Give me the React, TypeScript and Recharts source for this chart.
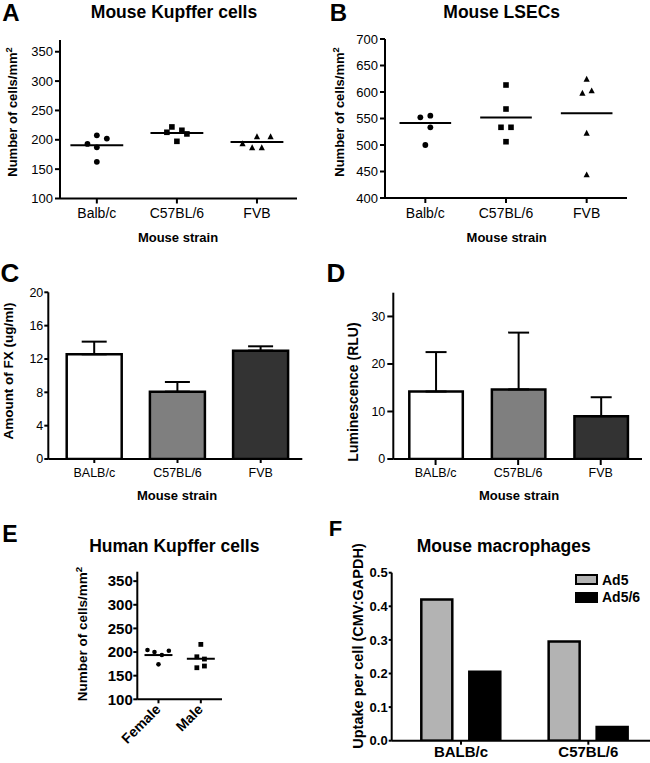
import React from 'react';
import {
  ScatterChart, Scatter, BarChart, Bar, XAxis, YAxis, ReferenceLine, ErrorBar, Cell, Legend,
} from 'recharts';

const FONT = '"Liberation Sans", Arial, Helvetica, sans-serif';

// ---------------- data ----------------
// A: Mouse Kupffer cells
const mouseStrains = ['Balb/c', 'C57BL/6', 'FVB'];
const kupfferTicks = [100, 150, 200, 250, 300, 350];
const kupfferBalbc = [207.7, 202, 193, 187.2, 162.4];
const kupfferBalbcJitter = [0, 0.125, -0.117, 0, 0];
const kupfferC57 = [221.9, 212.8, 216.2, 210, 197.4];
const kupfferC57Jitter = [-0.0625, -0.125, 0.0625, 0.125, 0];
const kupfferFvb = [193, 186.2, 205, 186.2, 205];
const kupfferFvbJitter = [-0.18, -0.06, 0, 0.06, 0.17];
const kupfferMeans = [190.6, 211.7, 196.4];

// B: Mouse LSECs
const lsecTicks = [400, 450, 500, 550, 600, 650, 700];
const lsecBalbc = [552.3, 555.3, 533.4, 500];
const lsecBalbcJitter = [-0.062, 0.062, 0.062, 0];
const lsecC57 = [613.2, 567.9, 533.4, 533.4, 506.2];
const lsecC57Jitter = [0, 0, -0.062, 0.062, 0];
const lsecFvb = [624, 597.5, 601.9, 522, 443.4];
const lsecFvbJitter = [0, -0.053, 0.062, 0, 0];
const lsecMeans = [541.5, 552, 559.8];

// C: Amount of FX
const barStrains = ['BALB/c', 'C57BL/6', 'FVB'];
const fxTicks = [0, 4, 8, 12, 16, 20];
const fxMean = [12.56, 8.08, 13.0];
const fxSem = [1.52, 1.16, 0.52];

// D: Luminescence
const lumTicks = [0, 10, 20, 30];
const lumMean = [14.2, 14.65, 9.0];
const lumSem = [8.3, 11.95, 4.0];

const strainFills = ['#ffffff', '#7f7f7f', '#333333'];

// E: Human Kupffer cells
const sexes = ['Female', 'Male'];
const humanFemale = [204.2, 200, 193.6, 202.7, 174];
const humanFemaleJitter = [-0.26, -0.094, 0.08, 0.245, 0];
const humanMale = [216.2, 190, 185.2, 166.8, 170.4];
const humanMaleJitter = [0, -0.094, 0.085, -0.094, 0.085];
const humanMeans = [193.6, 185.8];

// F: Mouse macrophages
const macStrains = ['BALB/c', 'C57BL/6'];
const macTicks = [0, 0.1, 0.2, 0.3, 0.4, 0.5];
const ad5Uptake = [0.42, 0.295];
const ad56Uptake = [0.205, 0.041];

// ---------------- helpers ----------------
const AX = { stroke: '#000', strokeWidth: 2 };

const pts = (vals: number[], jit: number[], c: number) =>
  vals.map((v, i) => ({ x: c + jit[i], y: v }));

const circleShape = (r: number) => (p: any) => <circle cx={p.cx} cy={p.cy} r={r} fill="#000" />;
const squareShape = (s: number) => (p: any) => (
  <rect x={p.cx - s / 2} y={p.cy - s / 2} width={s} height={s} fill="#000" />
);
const triangleShape = (s: number) => (p: any) => {
  const h = s * 0.95;
  return (
    <polygon
      points={`${p.cx},${p.cy - h * 0.6} ${p.cx - s / 2},${p.cy + h * 0.4} ${p.cx + s / 2},${p.cy + h * 0.4}`}
      fill="#000"
    />
  );
};

const Txt = ({ x, y, size, bold = true, rot = 0, children }: any) => (
  <div
    style={{
      position: 'absolute', left: x, top: y,
      transform: `translate(-50%,-50%) rotate(${rot}deg)`,
      fontSize: size, fontWeight: bold ? 700 : 400, lineHeight: 1,
      whiteSpace: 'nowrap', fontFamily: FONT, color: '#000',
    }}
  >
    {children}
  </div>
);

const Sup2 = () => (
  <span style={{ fontSize: '0.72em', position: 'relative', top: '-0.55em' }}>2</span>
);

const Panel = ({ left, top, children }: any) => (
  <div style={{ position: 'absolute', left, top }}>{children}</div>
);

function DotPlot(props: any) {
  const {
    width, height, margin, yWidth, xHeight, xDomain, yDomain, yTicks, cats, groups, means,
    meanHalf, xTick, yTick, xTickSize, yTickSize, xTickMargin, yTickMargin,
  } = props;
  return (
    <ScatterChart width={width} height={height} margin={margin}>
      <XAxis
        type="number" dataKey="x" domain={xDomain} allowDataOverflow
        ticks={cats.map((_: any, i: number) => i + 1)}
        tickFormatter={(v: number) => cats[Math.round(v) - 1]}
        height={xHeight} axisLine={AX} tickLine={AX} tick={xTick}
        tickSize={xTickSize} tickMargin={xTickMargin} interval={0}
      />
      <YAxis
        type="number" dataKey="y" domain={yDomain} allowDataOverflow ticks={yTicks}
        width={yWidth} axisLine={AX} tickLine={AX} tick={yTick}
        tickSize={yTickSize} tickMargin={yTickMargin} interval={0}
      />
      {means.map((m: number, i: number) => (
        <ReferenceLine
          key={'m' + i}
          segment={[{ x: i + 1 - meanHalf, y: m }, { x: i + 1 + meanHalf, y: m }]}
          stroke="#000" strokeWidth={2}
        />
      ))}
      {groups.map((g: any, i: number) => (
        <Scatter key={'g' + i} data={g.data} shape={g.shape} isAnimationActive={false} />
      ))}
    </ScatterChart>
  );
}

function StrainBars(props: any) {
  const {
    width, height, margin, yWidth, xHeight, padLeft, yDomain, yTicks, means, sems, barSize,
    capHalf, xTick, yTick, xTickSize, yTickSize, xTickMargin, yTickMargin,
  } = props;
  const data = barStrains.map((s, i) => ({ name: s, value: means[i], err: [0, sems[i]] }));
  return (
    <BarChart width={width} height={height} margin={margin} data={data}>
      <XAxis
        dataKey="name" height={xHeight} padding={{ left: padLeft, right: 0 }}
        axisLine={AX} tickLine={AX} tick={xTick} tickSize={xTickSize} tickMargin={xTickMargin}
        interval={0}
      />
      <YAxis
        type="number" domain={yDomain} allowDataOverflow ticks={yTicks} width={yWidth}
        axisLine={AX} tickLine={AX} tick={yTick} tickSize={yTickSize} tickMargin={yTickMargin}
        interval={0}
      />
      <Bar dataKey="value" barSize={barSize} stroke="#000" strokeWidth={2.5} isAnimationActive={false}>
        {data.map((d, i) => <Cell key={d.name} fill={strainFills[i]} />)}
        <ErrorBar dataKey="err" width={capHalf} stroke="#000" strokeWidth={2} direction="y" isAnimationActive={false} />
      </Bar>
    </BarChart>
  );
}

const RotTick = (p: any) => {
  const { x, y, payload } = p;
  const label = sexes[Math.round(payload.value) - 1];
  return (
    <g transform={`translate(${x + 3},${y + 7}) rotate(-45)`}>
      <text x={0} y={0} textAnchor="end" fontFamily={FONT} fontWeight={700} fontSize={14} fill="#000">
        {label}
      </text>
    </g>
  );
};

const MacLegend = () => (
  <div style={{ fontFamily: FONT, fontWeight: 700, fontSize: 14, color: '#000' }}>
    {[['Ad5', '#b3b3b3'], ['Ad5/6', '#000000']].map(([n, c]) => (
      <div key={n} style={{ display: 'flex', alignItems: 'center', height: 17.5 }}>
        <div style={{ width: 19, height: 7, background: c, border: '2px solid #000', marginRight: 4 }} />
        <span style={{ lineHeight: 1 }}>{n}</span>
      </div>
    ))}
  </div>
);

export default function App() {
  const t13 = { fontSize: 13, fill: '#000', fontFamily: FONT };
  const t14 = { fontSize: 14, fill: '#000', fontFamily: FONT };
  const t125 = { fontSize: 12.5, fill: '#000', fontFamily: FONT };
  const macData = macStrains.map((s, i) => ({ name: s, ad5: ad5Uptake[i], ad56: ad56Uptake[i] }));

  return (
    <div
      style={{
        position: 'absolute', left: 0, top: 0, width: 650, height: 763,
        background: '#fff', overflow: 'hidden', fontFamily: FONT,
      }}
    >
      {/* A */}
      <Panel left={0} top={0}>
        <DotPlot
          width={325} height={250} margin={{ top: 40, right: 28, bottom: 0, left: 0 }}
          yWidth={60} xHeight={51.5} xDomain={[0.54, 3.5]} yDomain={[100, 370]} yTicks={kupfferTicks}
          cats={mouseStrains} means={kupfferMeans} meanHalf={0.33}
          groups={[
            { data: pts(kupfferBalbc, kupfferBalbcJitter, 1), shape: circleShape(2.9) },
            { data: pts(kupfferC57, kupfferC57Jitter, 2), shape: squareShape(5.6) },
            { data: pts(kupfferFvb, kupfferFvbJitter, 3), shape: triangleShape(6.2) },
          ]}
          xTick={t14} yTick={t13} xTickSize={5} yTickSize={5} xTickMargin={5} yTickMargin={2}
        />
      </Panel>

      {/* B */}
      <Panel left={325} top={0}>
        <DotPlot
          width={325} height={250} margin={{ top: 39, right: 23, bottom: 0, left: 0 }}
          yWidth={60} xHeight={52} xDomain={[0.5, 3.5]} yDomain={[400, 700]} yTicks={lsecTicks}
          cats={mouseStrains} means={lsecMeans} meanHalf={0.32}
          groups={[
            { data: pts(lsecBalbc, lsecBalbcJitter, 1), shape: circleShape(2.9) },
            { data: pts(lsecC57, lsecC57Jitter, 2), shape: squareShape(5.6) },
            { data: pts(lsecFvb, lsecFvbJitter, 3), shape: triangleShape(6.2) },
          ]}
          xTick={t14} yTick={t13} xTickSize={5} yTickSize={5} xTickMargin={5} yTickMargin={2}
        />
      </Panel>

      {/* C */}
      <Panel left={0} top={270}>
        <StrainBars
          width={325} height={230} margin={{ top: 22.3, right: 22.7, bottom: 0, left: 0 }}
          yWidth={48.3} xHeight={41} padLeft={4.4} yDomain={[0, 20]} yTicks={fxTicks}
          means={fxMean} sems={fxSem} barSize={55} capHalf={12.5}
          xTick={t125} yTick={t125} xTickSize={4} yTickSize={4} xTickMargin={5} yTickMargin={1}
        />
      </Panel>

      {/* D */}
      <Panel left={325} top={270}>
        <StrainBars
          width={325} height={230} margin={{ top: 22.7, right: 8, bottom: 0, left: 0 }}
          yWidth={68.3} xHeight={41} padLeft={1} yDomain={[0, 35]} yTicks={lumTicks}
          means={lumMean} sems={lumSem} barSize={53.5} capHalf={10.5}
          xTick={t125} yTick={t125} xTickSize={6} yTickSize={6} xTickMargin={3} yTickMargin={2}
        />
      </Panel>

      {/* E */}
      <Panel left={0} top={560}>
        <DotPlot
          width={325} height={203} margin={{ top: 11.7, right: 103, bottom: 0, left: 0 }}
          yWidth={137.3} xHeight={63.7} xDomain={[0.5, 2.5]} yDomain={[100, 370]} yTicks={kupfferTicks}
          cats={sexes} means={humanMeans} meanHalf={0.33}
          groups={[
            { data: pts(humanFemale, humanFemaleJitter, 1), shape: circleShape(2.3) },
            { data: pts(humanMale, humanMaleJitter, 2), shape: squareShape(4.8) },
          ]}
          xTick={<RotTick />}
          yTick={{ fontSize: 15, fontWeight: 700, fill: '#000', fontFamily: FONT }}
          xTickSize={4} yTickSize={4} xTickMargin={0} yTickMargin={0.5}
        />
      </Panel>

      {/* F */}
      <Panel left={325} top={500}>
        <BarChart width={327} height={263} margin={{ top: 72.7, right: 0, bottom: 0, left: 0 }}
          data={macData} barGap={17}>
          <XAxis
            dataKey="name" height={22.3} padding={{ left: 5.6, right: 0 }} axisLine={AX} tickLine={AX}
            tick={{ fontSize: 15, fontWeight: 700, fill: '#000', fontFamily: FONT }}
            tickSize={4} tickMargin={1.6} interval={0}
          />
          <YAxis
            type="number" domain={[0, 0.5]} allowDataOverflow ticks={macTicks} width={66.7}
            tickFormatter={(v: number) => v.toFixed(1)} axisLine={AX} tickLine={AX}
            tick={{ fontSize: 13, fontWeight: 700, fill: '#000', fontFamily: FONT }}
            tickSize={3} tickMargin={1} interval={0}
          />
          <Legend
            layout="vertical" align="center" verticalAlign="middle"
            wrapperStyle={{ left: 250, top: 71, width: 'auto', height: 'auto' }}
            content={() => <MacLegend />}
          />
          <Bar dataKey="ad5" name="Ad5" barSize={31} fill="#b3b3b3" stroke="#000" strokeWidth={2.5} isAnimationActive={false} />
          <Bar dataKey="ad56" name="Ad5/6" barSize={31} fill="#000" stroke="#000" strokeWidth={2.5} isAnimationActive={false} />
        </BarChart>
      </Panel>

      {/* overlay text */}
      <Txt x={11} y={13} size={24}>A</Txt>
      <Txt x={174} y={13} size={17.5}>Mouse Kupffer cells</Txt>
      <Txt x={13} y={112} size={13} rot={-90}>Number of cells/mm<Sup2 /></Txt>
      <Txt x={178} y={237} size={13}>Mouse strain</Txt>

      <Txt x={338.5} y={13} size={24}>B</Txt>
      <Txt x={501.7} y={13} size={17.5}>Mouse LSECs</Txt>
      <Txt x={340} y={112} size={13} rot={-90}>Number of cells/mm<Sup2 /></Txt>
      <Txt x={506.7} y={237} size={13}>Mouse strain</Txt>

      <Txt x={10} y={273} size={26}>C</Txt>
      <Txt x={8.5} y={371} size={13.5} rot={-90}>Amount of FX (ug/ml)</Txt>
      <Txt x={177} y={495} size={13}>Mouse strain</Txt>

      <Txt x={336} y={273} size={26}>D</Txt>
      <Txt x={353.3} y={392} size={14} rot={-90}>Luminescence (RLU)</Txt>
      <Txt x={519} y={495} size={13}>Mouse strain</Txt>

      <Txt x={10} y={534} size={23}>E</Txt>
      <Txt x={174.3} y={547} size={17.5}>Human Kupffer cells</Txt>
      <Txt x={83.3} y={634} size={13.5} rot={-90}>Number of cells/mm<Sup2 /></Txt>

      <Txt x={335.5} y={529} size={22}>F</Txt>
      <Txt x={503.7} y={547} size={17.5}>Mouse macrophages</Txt>
      <Txt x={358.3} y={645.7} size={14.5} rot={-90}>Uptake per cell (CMV:GAPDH)</Txt>
    </div>
  );
}
